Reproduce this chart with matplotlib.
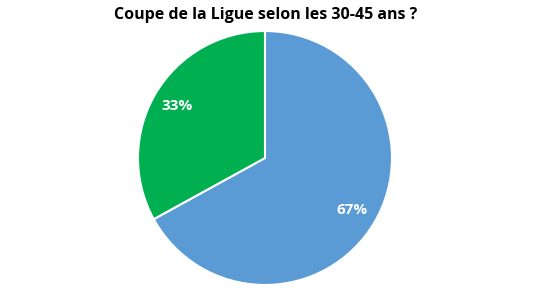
import matplotlib.pyplot as plt

# données
labels = ["Oui", "Non"]
values = [67, 33]
colors = ["#5B9BD5", "#00B050"]
title = "Coupe de la Ligue selon les 30-45 ans ?"

plt.rcParams["font.family"] = ["Open Sans", "DejaVu Sans"]

fig = plt.figure(figsize=(5.42, 3.05), dpi=100)
ax = fig.add_axes([0.2546, 0.0656, 0.4686, 0.8328])

wedges, texts, autotexts = ax.pie(
    values,
    colors=colors,
    startangle=90,
    counterclock=False,
    autopct="%d%%",
    pctdistance=0.8,
    wedgeprops={"edgecolor": "white", "linewidth": 1.5},
    textprops={"color": "white", "fontsize": 11, "fontweight": "bold"},
)
ax.set_xlim(-1, 1)
ax.set_ylim(-1, 1)
ax.set_aspect("equal")

fig.text(0.49, 0.95, title, ha="center", va="center", fontsize=11.5, fontweight="bold")

fig.savefig("out.png", dpi=100)
